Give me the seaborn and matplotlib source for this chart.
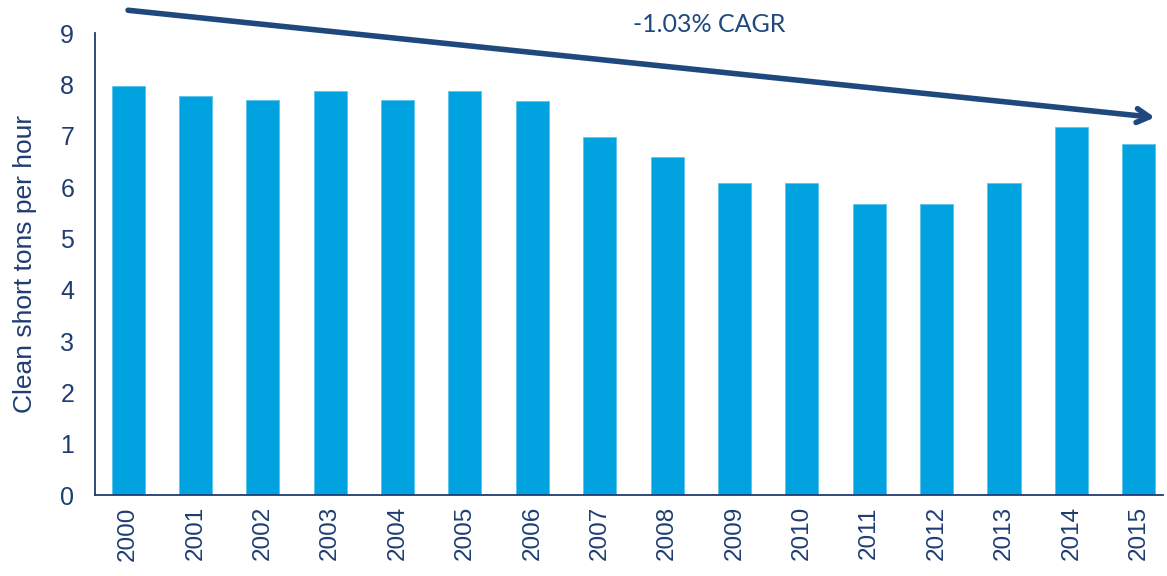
import pandas as pd
import matplotlib
matplotlib.use("Agg")
import matplotlib.pyplot as plt
import seaborn as sns

years = [str(y) for y in range(2000, 2016)]
tons_per_hour = [7.97, 7.77, 7.69, 7.87, 7.69, 7.87, 7.67, 6.98, 6.58, 6.07,
                 6.07, 5.67, 5.67, 6.07, 7.17, 6.83]
cagr_label = "-1.03% CAGR"

bar_color = "#00A3E0"
navy = "#1F3C73"
arrow_color = "#1F497D"

df = pd.DataFrame({"year": years, "tons": tons_per_hour})

sns.set_style("white")
plt.rcParams["font.family"] = ["Liberation Sans", "DejaVu Sans"]

fig = plt.figure(figsize=(11.67, 5.76), dpi=100)
ax = fig.add_axes([0.0814, 0.1406, 0.9152, 0.802])

sns.barplot(data=df, x="year", y="tons", color=bar_color, width=0.49,
            saturation=1, edgecolor="#5CC3EA", linewidth=0.6, ax=ax)

ax.set_ylim(0, 9)
ax.set_xlim(-0.49, 15.36)
ax.set_yticks(range(0, 10))
ax.set_xlabel("")
ax.set_ylabel("Clean short tons per hour", fontsize=19, color=navy, labelpad=17)
ax.tick_params(axis="y", labelsize=18, labelcolor=navy, length=0, pad=15)
ax.tick_params(axis="x", labelsize=17.5, labelcolor=navy, length=0, pad=8,
               rotation=90)

for side in ["top", "right"]:
    ax.spines[side].set_visible(False)
for side in ["left", "bottom"]:
    ax.spines[side].set_color(navy)
    ax.spines[side].set_linewidth(1.3)

# trend arrow with CAGR label
ax.annotate("", xy=(15.28, 7.35), xytext=(-0.04, 9.45),
            arrowprops=dict(arrowstyle="->,head_length=0.9,head_width=0.5",
                            color=arrow_color, lw=4),
            annotation_clip=False)
ax.text(8.63, 9.16, cagr_label, fontsize=18, color=arrow_color,
        ha="center", va="center", family=["Lato", "DejaVu Sans"])

fig.savefig("out.png", dpi=100)
